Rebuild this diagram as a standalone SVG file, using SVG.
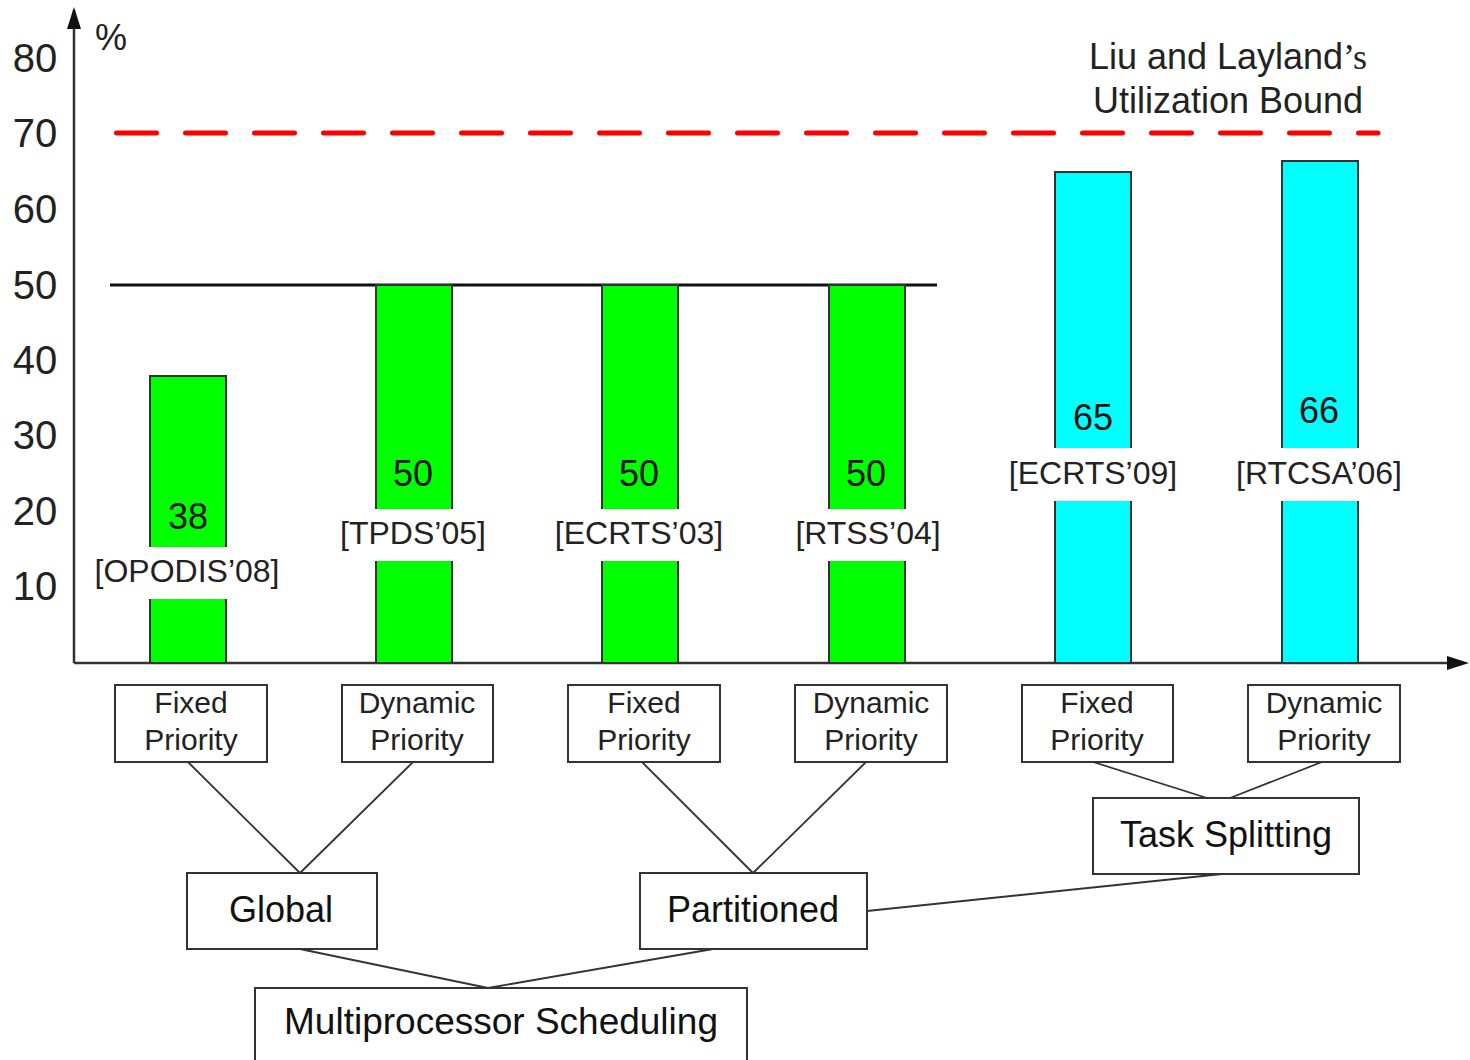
<svg xmlns="http://www.w3.org/2000/svg" width="1470" height="1060" viewBox="0 0 1470 1060">
  <defs>
    <marker id="arrow" viewBox="0 0 10 10" refX="10" refY="5" markerWidth="8" markerHeight="8" markerUnits="userSpaceOnUse" orient="auto">
      <path d="M0,0 L10,5 L0,10 z" fill="#111"/>
    </marker>
    <style>
      text { font-family: "Liberation Sans", Arial, sans-serif; fill: #222; }
      .tick { font-size: 40px; text-anchor: middle; }
      .val { font-size: 36px; text-anchor: middle; fill: #111; }
      .cite { font-size: 32px; text-anchor: middle; }
      .green { fill: #00ff00; stroke: #333; stroke-width: 2; }
      .cyan { fill: #00ffff; stroke: #333; stroke-width: 2; }
      .gap { fill: #fff; stroke: none; }
      .box { fill: #fff; stroke: #333; stroke-width: 2; }
      .small { font-size: 30px; text-anchor: middle; }
      .big { font-size: 36px; text-anchor: middle; fill: #111; }
      .link { stroke: #333; stroke-width: 1.8; fill: none; }
    </style>
  </defs>

  <rect width="1470" height="1060" fill="#fff"/>

  <!-- axes -->
  <g id="axes">
    <line x1="74" y1="663" x2="74" y2="10" stroke="#333" stroke-width="2.5"/>
    <path d="M74,7 L67,29 L81,29 z" fill="#111"/>
    <line x1="74" y1="663" x2="1448" y2="663" stroke="#333" stroke-width="2.5"/>
    <path d="M1469,663 L1447,656 L1447,670 z" fill="#111"/>
    <text x="111" y="50" style="font-size:36px;text-anchor:middle">%</text>
    <text class="tick" x="35" y="72">80</text>
    <text class="tick" x="35" y="147">70</text>
    <text class="tick" x="35" y="223">60</text>
    <text class="tick" x="35" y="299">50</text>
    <text class="tick" x="35" y="374">40</text>
    <text class="tick" x="35" y="449">30</text>
    <text class="tick" x="35" y="525">20</text>
    <text class="tick" x="35" y="600">10</text>
  </g>

  <!-- Liu and Layland bound -->
  <g id="bound">
    <line x1="116.5" y1="133" x2="1378" y2="133" stroke="#ff0000" stroke-width="5" stroke-linecap="round" stroke-dasharray="40 29"/>
    <text x="1228" y="69" style="font-size:36px;text-anchor:middle">Liu and Layland<tspan style="font-family:'Liberation Serif',serif">’s</tspan></text>
    <text x="1228" y="113" style="font-size:36px;text-anchor:middle">Utilization Bound</text>
  </g>

  <!-- 50% line -->
  <line id="half-line" x1="110" y1="285" x2="937" y2="285" stroke="#111" stroke-width="3"/>

  <!-- bars -->
  <g id="bar-opodis">
    <rect class="green" x="150" y="376" width="76" height="287"/>
    <rect class="gap" x="140" y="547" width="96" height="52"/>
    <text class="val" x="188" y="529">38</text>
    <text class="cite" x="187" y="582">[OPODIS’08]</text>
  </g>
  <g id="bar-tpds">
    <rect class="green" x="376" y="285" width="76" height="378"/>
    <rect class="gap" x="366" y="509" width="96" height="52"/>
    <text class="val" x="413" y="486">50</text>
    <text class="cite" x="413" y="544">[TPDS’05]</text>
  </g>
  <g id="bar-ecrts03">
    <rect class="green" x="602" y="285" width="76" height="378"/>
    <rect class="gap" x="592" y="509" width="96" height="52"/>
    <text class="val" x="639" y="486">50</text>
    <text class="cite" x="639" y="544">[ECRTS’03]</text>
  </g>
  <g id="bar-rtss">
    <rect class="green" x="829" y="285" width="76" height="378"/>
    <rect class="gap" x="819" y="509" width="96" height="52"/>
    <text class="val" x="866" y="486">50</text>
    <text class="cite" x="868" y="544">[RTSS’04]</text>
  </g>
  <g id="bar-ecrts09">
    <rect class="cyan" x="1055" y="172" width="76" height="491"/>
    <rect class="gap" x="1045" y="448" width="96" height="53"/>
    <text class="val" x="1093" y="430">65</text>
    <text class="cite" x="1093" y="484">[ECRTS’09]</text>
  </g>
  <g id="bar-rtcsa">
    <rect class="cyan" x="1282" y="161" width="76" height="502"/>
    <rect class="gap" x="1272" y="448" width="96" height="53"/>
    <text class="val" x="1319" y="423">66</text>
    <text class="cite" x="1319" y="484">[RTCSA’06]</text>
  </g>

  <!-- connectors -->
  <g id="connectors">
    <line class="link" x1="188" y1="762" x2="300" y2="873"/>
    <line class="link" x1="413" y1="762" x2="300" y2="873"/>
    <line class="link" x1="642" y1="762" x2="753" y2="873"/>
    <line class="link" x1="866" y1="762" x2="753" y2="873"/>
    <line class="link" x1="1093" y1="762" x2="1207" y2="798"/>
    <line class="link" x1="1322" y1="762" x2="1230" y2="798"/>
    <line class="link" x1="1222" y1="874" x2="867" y2="911"/>
    <line class="link" x1="300" y1="949" x2="488" y2="988"/>
    <line class="link" x1="713" y1="949" x2="488" y2="988"/>
  </g>

  <!-- scheme nodes -->
  <g id="node-global-fixed">
    <rect class="box" x="115" y="685" width="152" height="77"/>
    <text class="small" x="191" y="713">Fixed</text>
    <text class="small" x="191" y="750">Priority</text>
  </g>
  <g id="node-global-dynamic">
    <rect class="box" x="342" y="685" width="151" height="77"/>
    <text class="small" x="417" y="713">Dynamic</text>
    <text class="small" x="417" y="750">Priority</text>
  </g>
  <g id="node-part-fixed">
    <rect class="box" x="568" y="685" width="152" height="77"/>
    <text class="small" x="644" y="713">Fixed</text>
    <text class="small" x="644" y="750">Priority</text>
  </g>
  <g id="node-part-dynamic">
    <rect class="box" x="795" y="685" width="152" height="77"/>
    <text class="small" x="871" y="713">Dynamic</text>
    <text class="small" x="871" y="750">Priority</text>
  </g>
  <g id="node-split-fixed">
    <rect class="box" x="1022" y="685" width="151" height="77"/>
    <text class="small" x="1097" y="713">Fixed</text>
    <text class="small" x="1097" y="750">Priority</text>
  </g>
  <g id="node-split-dynamic">
    <rect class="box" x="1248" y="685" width="152" height="77"/>
    <text class="small" x="1324" y="713">Dynamic</text>
    <text class="small" x="1324" y="750">Priority</text>
  </g>
  <g id="node-global">
    <rect class="box" x="187" y="873" width="190" height="76"/>
    <text class="big" x="281" y="922">Global</text>
  </g>
  <g id="node-partitioned">
    <rect class="box" x="640" y="873" width="227" height="76"/>
    <text class="big" x="753" y="922">Partitioned</text>
  </g>
  <g id="node-task-splitting">
    <rect class="box" x="1093" y="798" width="266" height="76"/>
    <text class="big" x="1226" y="847">Task Splitting</text>
  </g>
  <g id="node-multiprocessor">
    <rect class="box" x="255" y="988" width="492" height="90"/>
    <text class="big" x="501" y="1034" style="font-size:37px">Multiprocessor Scheduling</text>
  </g>
</svg>
